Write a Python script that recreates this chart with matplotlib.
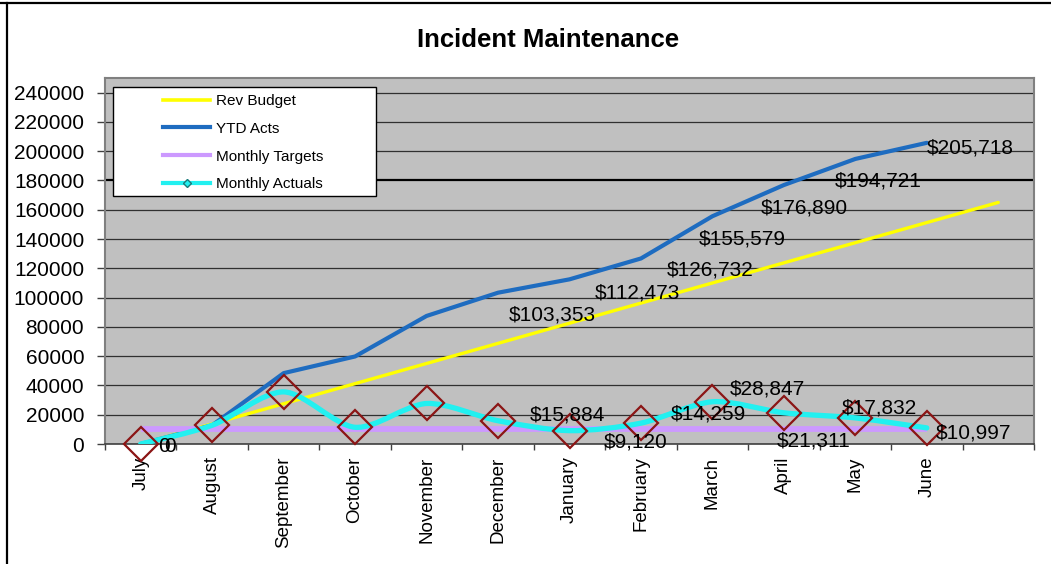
import numpy as np
import matplotlib
matplotlib.use("Agg")
import matplotlib.pyplot as plt
from matplotlib.path import Path
from matplotlib.patches import PathPatch, Rectangle
from matplotlib.lines import Line2D

plt.rcParams['font.family'] = ['Liberation Sans', 'DejaVu Sans']

# ---------------- data ----------------
months = ["July", "August", "September", "October", "November", "December",
          "January", "February", "March", "April", "May", "June", ""]
rev_budget = [0, 13750, 27500, 41250, 55000, 68750, 82500, 96250, 110000,
              123750, 137500, 151250, 165000]
ytd_acts = [0, 12800, 48400, 59800, 87469, 103353, 112473, 126732, 155579,
            176890, 194721, 205718]
monthly_targets = [10000] * 12
monthly_actuals = [0, 12800, 35600, 11400, 27669, 15884, 9120, 14259, 28847,
                   21311, 17832, 10997]
y_ticks = list(range(0, 240001, 20000))

# labels shown (index -> text)
ytd_labels = {5: "$103,353", 6: "$112,473", 7: "$126,732", 8: "$155,579",
              9: "$176,890", 10: "$194,721", 11: "$205,718"}
act_labels = {5: "$15,884", 6: "$9,120", 7: "$14,259", 8: "$28,847",
              9: "$21,311", 10: "$17,832", 11: "$10,997"}

# label offsets (pixels) – layout only
ytd_off = {5: (11, -20), 6: (25, -12), 7: (26, -10), 8: (-14, -21),
           9: (-23, -21), 10: (-21, -20), 11: (0, -3)}
act_off = {5: (32, 8), 6: (34, -9), 7: (30, 11), 8: (17, 15),
           9: (-7, -26), 10: (-14, 12), 11: (9, -3)}

W, H = 1051, 564
fig = plt.figure(figsize=(W / 100, H / 100), dpi=100)
L, R, T, B = 105, 1034, 78, 444
ax = fig.add_axes([L / W, 1 - B / H, (R - L) / W, (B - T) / H])
ax.set_facecolor("#C0C0C0")
ax.set_xlim(-0.5, len(months) - 0.5)
ax.set_ylim(0, 250000)


def smooth(ax, x, y, color, lw, z, k=6.0):
    pts = np.column_stack([x, y]).astype(float)
    n = len(pts)
    verts = [pts[0]]
    codes = [Path.MOVETO]
    for i in range(n - 1):
        p0 = pts[i - 1] if i > 0 else pts[i]
        p1 = pts[i]
        p2 = pts[i + 1]
        p3 = pts[i + 2] if i + 2 < n else pts[i + 1]
        c1 = p1 + (p2 - p0) / k
        c2 = p2 - (p3 - p1) / k
        verts += [c1, c2, p2]
        codes += [Path.CURVE4] * 3
    patch = PathPatch(Path(verts, codes), fill=False, edgecolor=color, lw=lw,
                      capstyle='round', joinstyle='round', zorder=z)
    ax.add_patch(patch)


c_yellow = "#FFFF00"
c_blue = "#1E6CC0"
c_purple = "#CC99FF"
c_cyan = "#22F0F0"
c_dia = "#8B1515"

xi = np.arange(len(months))
ax.plot(xi[:len(rev_budget)], rev_budget, color=c_yellow, lw=2.4, zorder=3,
        solid_capstyle='round')
ax.plot(xi[:12], ytd_acts, color=c_blue, lw=3.0, zorder=4,
        solid_capstyle='round', solid_joinstyle='round')
ax.plot(xi[:12], monthly_targets, color=c_purple, lw=4.2, zorder=5,
        solid_capstyle='butt')
smooth(ax, xi[:12], monthly_actuals, c_cyan, 3.8, 6, k=7.0)
ax.plot(xi[:12], monthly_actuals, linestyle='none', marker='D', markersize=17,
        markerfacecolor='none', markeredgecolor=c_dia, markeredgewidth=1.6,
        zorder=7, clip_on=False)

lab_fs = 15
for i, t in ytd_labels.items():
    ax.annotate(t, xy=(i, ytd_acts[i]), xytext=ytd_off[i],
                textcoords='offset pixels', ha='left', va='center_baseline',
                fontsize=lab_fs, color='black', zorder=8)
for i, t in act_labels.items():
    ax.annotate(t, xy=(i, monthly_actuals[i]), xytext=act_off[i],
                textcoords='offset pixels', ha='left', va='center_baseline',
                fontsize=lab_fs, color='black', zorder=8)
# zero labels at July (two overlapping labels, as in the original)
ax.annotate("0", xy=(0, ytd_acts[0]), xytext=(17, 0), textcoords='offset pixels',
            ha='left', va='center_baseline', fontsize=lab_fs, zorder=8,
            annotation_clip=False)
ax.annotate("0", xy=(0, monthly_actuals[0]), xytext=(23, 0),
            textcoords='offset pixels', ha='left', va='center_baseline',
            fontsize=lab_fs, zorder=8, annotation_clip=False)

# axes styling
ax.set_yticks(y_ticks)
ax.set_yticklabels([str(v) for v in y_ticks], fontsize=15)
ax.tick_params(axis='y', direction='out', length=6, width=1, color='#404040',
               pad=9)
ax.set_xticks(xi)
ax.set_xticklabels(months, rotation=90, fontsize=13.5, va='top', ha='center')
ax.tick_params(axis='x', which='major', length=0, pad=9)
ax.set_xticks(np.arange(-0.5, len(months)), minor=True)
ax.tick_params(axis='x', which='minor', direction='out', length=4, width=1,
               color='#404040')
ax.yaxis.grid(True, color='#303030', lw=0.9)
ax.set_axisbelow(True)
gl = ax.get_ygridlines()
gl[y_ticks.index(180000)].set_color('black')
gl[y_ticks.index(180000)].set_linewidth(1.6)
for s in ['left', 'top', 'right']:
    ax.spines[s].set_color('#808080')
    ax.spines[s].set_linewidth(1.5)
ax.spines['bottom'].set_color('#404040')
ax.spines['bottom'].set_linewidth(1.2)

# title
fig.text(548 / W, 1 - 40 / H, "Incident Maintenance",
         family=['Liberation Sans Narrow', 'Liberation Sans', 'DejaVu Sans'],
         fontweight='bold', fontsize=18.5, ha='center', va='center')

# legend box + legend
fig.add_artist(Rectangle((113 / W, 1 - 196 / H), (376 - 113) / W, (196 - 87) / H,
                         transform=fig.transFigure, facecolor='white',
                         edgecolor='black', lw=1.0, zorder=9))
handles = [
    Line2D([], [], color=c_yellow, lw=2.6),
    Line2D([], [], color=c_blue, lw=3.0),
    Line2D([], [], color=c_purple, lw=3.0),
    Line2D([], [], color=c_cyan, lw=3.0, marker='D', markersize=4,
           markerfacecolor=c_cyan, markeredgecolor='#1a7a7a',
           markeredgewidth=1.0),
]
labels = ["Rev Budget", "YTD Acts", "Monthly Targets", "Monthly Actuals"]
leg = fig.legend(handles, labels, loc='upper left',
                 bbox_to_anchor=(163 / W, 1 - 94 / H), frameon=False,
                 fontsize=11, handlelength=3.1, handletextpad=0.35,
                 borderpad=0, borderaxespad=0, labelspacing=0.9)
leg.set_zorder(10)

# figure frame (top and left)
fig.add_artist(Line2D([0, 1], [1 - 3 / H, 1 - 3 / H], transform=fig.transFigure,
                      color='black', lw=1.6))
fig.add_artist(Line2D([7 / W, 7 / W], [0, 1 - 3 / H], transform=fig.transFigure,
                      color='black', lw=1.6))

fig.savefig("out.png", dpi=100)
